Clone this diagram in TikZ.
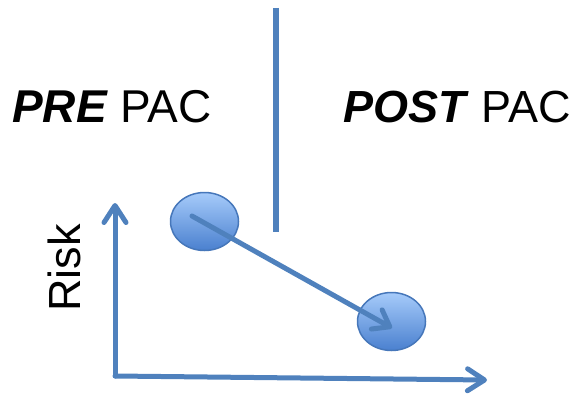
\documentclass[tikz,border=0pt]{standalone}
\usepackage{fontspec}
\setmainfont{Liberation Sans}
\usetikzlibrary{arrows.meta,shapes.geometric}
\definecolor{lineblue}{HTML}{4F81BD}
\definecolor{edgeblue}{HTML}{4677BA}
\definecolor{topblue}{HTML}{A6CBFA}
\definecolor{botblue}{HTML}{4A80CF}
\tikzset{
  bigtext/.style={inner sep=0pt, font=\fontsize{45}{54}\selectfont},
  axisline/.style={draw=lineblue, line width=5pt, line cap=round, line join=round,
    -{Straight Barb[length=17pt,width=22pt,line join=round,line cap=round]}},
  blob/.style={ellipse, draw=edgeblue, line width=1.5pt, minimum width=68pt, minimum height=58pt,
    inner sep=0pt, top color=topblue, bottom color=botblue},
}
\begin{document}
\begin{tikzpicture}[x=1pt,y=-1pt]
\useasboundingbox (0,0) rectangle (577,393);
% divider
\coordinate (dtop) at (276,8);
\coordinate (dbot) at (276,232);
\draw[lineblue, line width=6pt] (dtop) -- (dbot);
% titles
\node[bigtext, anchor=base west, font=\fontsize{46}{54}\selectfont] (pre) at (12,122) {\textbf{\textit{PRE}} PAC};
\node[bigtext, anchor=base west] (post) at (343,122) {\textbf{\textit{POST}} PAC};
% axis label
\node[bigtext, anchor=base, rotate=90] (risk) at (80,268) {Risk};
% axes
\coordinate (origin) at (115,376);
\coordinate (ytip) at (115,203);
\coordinate (xtip) at (487,380);
\draw[axisline] (origin) -- (ytip);
\draw[axisline] (origin) -- (xtip);
% blobs
\node[blob] (b1) at (204.5,221.5) {};
\node[blob] (b2) at (391.5,321.5) {};
% arrow
\coordinate (astart) at (192,216);
\coordinate (aend) at (392,328);
\draw[axisline, -{Straight Barb[length=15pt,width=22pt,line join=round,line cap=round]}] (astart) -- (aend);
\end{tikzpicture}
\end{document}
